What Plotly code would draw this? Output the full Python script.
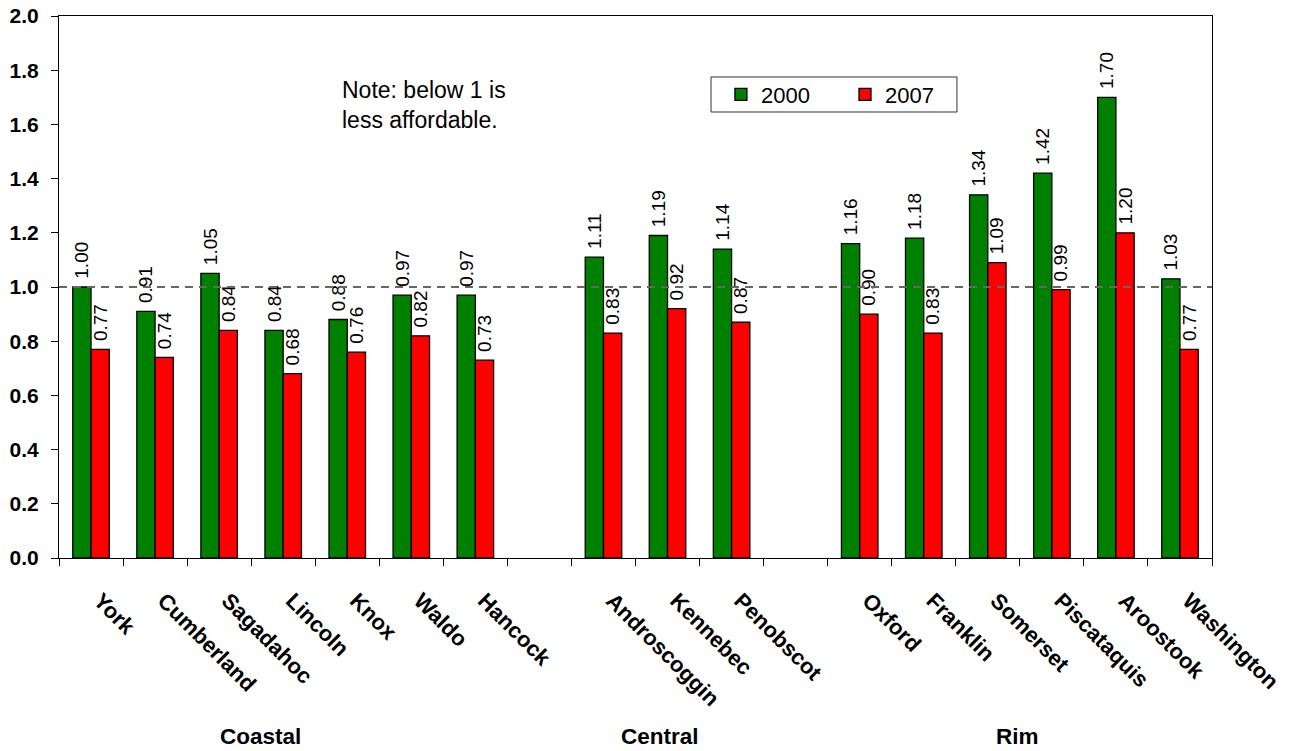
import plotly.graph_objects as go

counties = ["York", "Cumberland", "Sagadahoc", "Lincoln", "Knox", "Waldo", "Hancock", " ",
            "Androscoggin", "Kennebec", "Penobscot", "  ",
            "Oxford", "Franklin", "Somerset", "Piscataquis", "Aroostook", "Washington"]
v2000 = [1.00, 0.91, 1.05, 0.84, 0.88, 0.97, 0.97, None,
         1.11, 1.19, 1.14, None,
         1.16, 1.18, 1.34, 1.42, 1.70, 1.03]
v2007 = [0.77, 0.74, 0.84, 0.68, 0.76, 0.82, 0.73, None,
         0.83, 0.92, 0.87, None,
         0.90, 0.83, 1.09, 0.99, 1.20, 0.77]
regions = ["Coastal", "Central", "Rim"]
region_x = [0.175, 0.521, 0.8317]

FONT = "Liberation Sans, Arial, sans-serif"

fig = go.Figure()
for name, vals, col, lg in [("2000", v2000, "#008000", "legend"), ("2007", v2007, "#FF0000", "legend2")]:
    fig.add_trace(go.Bar(
        x=counties, y=vals, name=name, legend=lg,
        marker=dict(color=col, line=dict(color="#000000", width=1.3)),
        text=[("\u00a0%.2f" % v) if v is not None else "" for v in vals],
        textposition="outside", textangle=-90, constraintext="none",
        textfont=dict(family=FONT, size=19, color="#000000"),
        cliponaxis=False,
    ))

leg_common = dict(orientation="h", yanchor="middle", xanchor="left", y=0.8552,
                  bgcolor="rgba(0,0,0,0)", borderwidth=0,
                  font=dict(family=FONT, size=22), itemwidth=30)

fig.update_layout(
    width=1295, height=751,
    margin=dict(l=59, r=83, t=16, b=193, autoexpand=False),
    paper_bgcolor="white", plot_bgcolor="white",
    barmode="group", bargap=0.43, bargroupgap=0,
    font=dict(family=FONT, color="#000000"),
    showlegend=True,
    legend=dict(x=0.5741, **leg_common),
    legend2=dict(x=0.6817, **leg_common),
    xaxis=dict(type="category", categoryorder="array", categoryarray=counties,
               range=[-0.5, len(counties) - 0.5], automargin=False,
               tickangle=45, tickfont=dict(family=FONT, size=22, weight="bold"),
               ticklabelstandoff=20, ticklabelshift=9,
               ticks="outside", tickson="boundaries", ticklen=7, tickcolor="#000000",
               showline=True, linecolor="#000000", linewidth=1, mirror=True,
               showgrid=False),
    yaxis=dict(range=[0, 2.0], dtick=0.2, tickformat=".1f", automargin=False,
               tickfont=dict(family=FONT, size=21, weight="bold"),
               ticklabelstandoff=8, ticklabeloverflow="allow",
               ticks="outside", ticklen=7, tickcolor="#000000",
               showline=True, linecolor="#000000", linewidth=1, mirror=True,
               showgrid=False, zeroline=False),
)

fig.add_shape(type="line", xref="paper", yref="y", x0=0, x1=1, y0=1.0, y1=1.0,
              line=dict(color="#666666", width=2, dash="8px,6px"))
fig.add_shape(type="rect", xref="paper", yref="paper", x0=0.5655, x1=0.7788,
              y0=0.8229, y1=0.8875, line=dict(color="#333333", width=1),
              fillcolor="rgba(0,0,0,0)")

fig.add_annotation(text="Note: below 1 is<br>less affordable.", xref="paper", yref="paper",
                   x=0.2437, y=0.835, xanchor="left", yanchor="middle", align="left",
                   showarrow=False, font=dict(family=FONT, size=23))

for r, rx in zip(regions, region_x):
    fig.add_annotation(text="<b>%s</b>" % r, xref="paper", yref="paper",
                       x=rx, y=-0.330, xanchor="center", yanchor="middle",
                       showarrow=False, font=dict(family=FONT, size=22.5))

fig.write_html("out.html", config={"displayModeBar": False},
               post_script="document.body.style.margin='0';")
